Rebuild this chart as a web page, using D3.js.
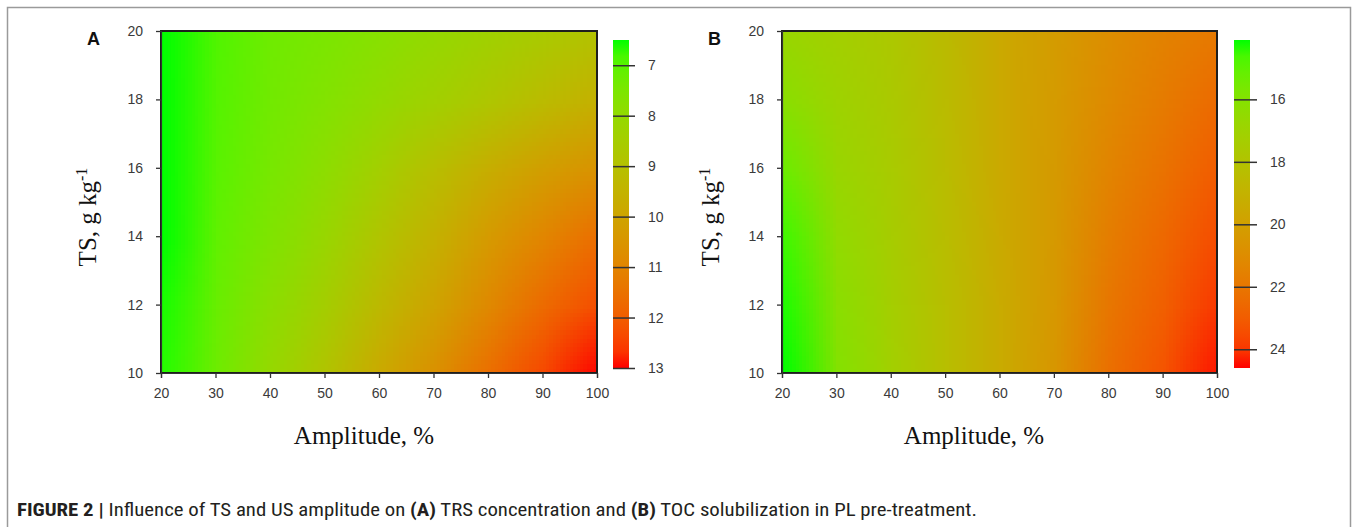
<!DOCTYPE html>
<html><head><meta charset="utf-8">
<script src="https://cdn.jsdelivr.net/npm/d3@7"></script>
<style>body{margin:0;background:#fff;} svg{display:block}</style>
</head><body>
<svg id="chart" width="1358" height="527"></svg>
<script>
// ---------- data ----------
const amplitudeTicks = [20, 30, 40, 50, 60, 70, 80, 90, 100];
const tsTicks = [10, 12, 14, 16, 18, 20];
const gridAmplitude = [20, 30, 40, 50, 60, 70, 80, 90, 100];
const gridTS = [20, 18, 16, 14, 12, 10];
// (A) TRS concentration, rows = TS (20 -> 10), columns = amplitude (20 -> 100)
const trsValues = [
  [6.5, 6.9, 7.3, 7.5, 7.75, 8.05, 8.35, 8.65, 8.95],
  [6.5, 6.95, 7.35, 7.65, 8.0, 8.4, 8.8, 9.2, 9.6],
  [6.5, 7.0, 7.45, 7.9, 8.45, 9.1, 9.7, 10.2, 10.6],
  [6.5, 7.1, 7.6, 8.15, 8.85, 9.55, 10.35, 11.0, 11.6],
  [6.55, 7.2, 7.85, 8.5, 9.3, 10.05, 10.9, 11.7, 12.3],
  [6.6, 7.3, 8.1, 8.9, 9.85, 10.65, 11.6, 12.4, 13.0]
];
// (B) TOC solubilization
const tocValues = [
  [16.8, 17.2, 17.7, 18.5, 19.5, 20.2, 20.9, 21.5, 21.9],
  [16.2, 17.0, 17.6, 18.45, 19.5, 20.25, 21.1, 21.8, 22.5],
  [15.3, 16.8, 17.5, 18.4, 19.5, 20.3, 21.4, 22.2, 23.0],
  [14.5, 16.5, 17.4, 18.35, 19.45, 20.35, 21.7, 22.6, 23.5],
  [14.2, 16.2, 17.3, 18.3, 19.4, 20.4, 22.0, 22.9, 24.0],
  [14.1, 16.0, 17.2, 18.3, 19.4, 20.5, 22.3, 23.3, 24.5]
];
const trsLegendTicks = [7, 8, 9, 10, 11, 12, 13];
const tocLegendTicks = [16, 18, 20, 22, 24];
const trsColorRange = [6.5, 13];
const tocColorRange = [14.1, 24.6];
const panelLetters = ["A", "B"];
const xTitle = "Amplitude, %";
const yTitleMain = "TS, g kg";
const yTitleSup = "-1";
const colorEnds = ["#00ff00", "#ff0000"];

// ---------- layout ----------
const svg = d3.select("#chart");
const tickFont = "'Liberation Sans', Arial, sans-serif";
const serif = "'Liberation Serif', 'Times New Roman', serif";

svg.append("rect").attr("x", 7.5).attr("y", 7.5).attr("width", 1343).attr("height", 560)
  .attr("fill", "none").attr("stroke", "#9a9a9a").attr("stroke-width", 1.5);

const panels = [
  {letter: panelLetters[0], values: trsValues, range: trsColorRange, legendTicks: trsLegendTicks,
   x0: 161, x1: 597, barX: 613, tickLen: 22, letterX: 87, yTitleX: 96, xTitleX: 364},
  {letter: panelLetters[1], values: tocValues, range: tocColorRange, legendTicks: tocLegendTicks,
   x0: 782, x1: 1217, barX: 1234, tickLen: 23, letterX: 708, yTitleX: 719, xTitleX: 974}
];
const plotTop = 31, plotBottom = 373, barTop = 40, barBottom = 368, barW = 16;

const defs = svg.append("defs");

panels.forEach((p, pi) => {
  const g = svg.append("g");
  const x = d3.scaleLinear().domain([20, 100]).range([p.x0, p.x1]);
  const y = d3.scaleLinear().domain([10, 20]).range([plotBottom, plotTop]);
  const color = d3.scaleLinear().domain(p.range).range(colorEnds).interpolate(d3.interpolateLab).clamp(true);

  // heat surface: one pixel per grid value, smoothed by the browser
  const nx = gridAmplitude.length, ny = gridTS.length;
  const cv = document.createElement("canvas");
  cv.width = nx; cv.height = ny;
  const ctx = cv.getContext("2d");
  p.values.forEach((row, j) => row.forEach((v, i) => {
    ctx.fillStyle = color(v);
    ctx.fillRect(i, j, 1, 1);
  }));
  const clipId = "clip" + pi;
  defs.append("clipPath").attr("id", clipId).append("rect")
    .attr("x", x(20)).attr("y", y(20)).attr("width", x(100) - x(20)).attr("height", y(10) - y(20));
  const halfX = 5, halfY = 1;
  g.append("g").attr("clip-path", `url(#${clipId})`).append("image")
    .attr("href", cv.toDataURL())
    .attr("x", x(gridAmplitude[0] - halfX)).attr("y", y(gridTS[0] + halfY))
    .attr("width", x(gridAmplitude[nx - 1] + halfX) - x(gridAmplitude[0] - halfX))
    .attr("height", y(gridTS[ny - 1] - halfY) - y(gridTS[0] + halfY))
    .attr("preserveAspectRatio", "none")
    .style("image-rendering", "auto");

  // frame
  g.append("rect").attr("x", x(20)).attr("y", y(20)).attr("width", x(100) - x(20)).attr("height", y(10) - y(20))
    .attr("fill", "none").attr("stroke", "#1e1e1e").attr("stroke-width", 2);

  // axes
  const xa = g.append("g").attr("transform", `translate(0,${plotBottom})`)
    .call(d3.axisBottom(x).tickValues(amplitudeTicks).tickSize(5).tickPadding(10));
  const ya = g.append("g").attr("transform", `translate(${p.x0},0)`)
    .call(d3.axisLeft(y).tickValues(tsTicks).tickSize(5).tickPadding(13));
  [xa, ya].forEach(a => {
    a.select(".domain").attr("stroke", "#333").attr("stroke-width", 1.2);
    a.selectAll(".tick line").attr("stroke", "#333").attr("stroke-width", 1.3);
    a.selectAll(".tick text").attr("font-family", tickFont).attr("font-size", 14).attr("fill", "#3a3a3a");
  });

  // color bar
  const gid = "grad" + pi;
  const grad = defs.append("linearGradient").attr("id", gid).attr("x1", 0).attr("x2", 0).attr("y1", 0).attr("y2", 1);
  d3.range(0, 1.0001, 0.05).forEach(t => {
    grad.append("stop").attr("offset", t)
      .attr("stop-color", color(p.range[0] + t * (p.range[1] - p.range[0])));
  });
  const cy = d3.scaleLinear().domain(p.range).range([barTop, barBottom]);
  g.append("rect").attr("x", p.barX).attr("y", barTop).attr("width", barW).attr("height", barBottom - barTop)
    .attr("fill", `url(#${gid})`);
  const ca = g.append("g").attr("transform", `translate(${p.barX},0)`)
    .call(d3.axisRight(cy).tickValues(p.legendTicks).tickSize(p.tickLen).tickPadding(13).tickFormat(d3.format("d")));
  ca.select(".domain").remove();
  ca.selectAll(".tick line").attr("stroke", "#333").attr("stroke-width", 1.5);
  ca.selectAll(".tick text").attr("font-family", tickFont).attr("font-size", 14).attr("fill", "#3a3a3a");

  // panel letter
  g.append("text").attr("x", p.letterX).attr("y", 45).text(p.letter)
    .attr("font-family", tickFont).attr("font-weight", "bold").attr("font-size", 18).attr("fill", "#111");

  // axis titles
  g.append("text").attr("x", p.xTitleX).attr("y", 444).attr("text-anchor", "middle")
    .attr("font-family", serif).attr("font-size", 25).attr("fill", "#111").text(xTitle);
  const yt = g.append("text").attr("transform", `translate(${p.yTitleX},217) rotate(-90)`)
    .attr("text-anchor", "middle").attr("font-family", serif).attr("font-size", 25).attr("fill", "#111");
  yt.append("tspan").text(yTitleMain);
  yt.append("tspan").attr("dy", -9).attr("font-size", 16).text(yTitleSup);
});

// caption
const capParts = [
  {t: "FIGURE 2 | ", b: true},
  {t: "Influence of TS and US amplitude on ", b: false},
  {t: "(A)", b: true},
  {t: " TRS concentration and ", b: false},
  {t: "(B)", b: true},
  {t: " TOC solubilization in PL pre-treatment.", b: false}
];
const cap = svg.append("text").attr("x", 17).attr("y", 516)
  .attr("font-family", "'Liberation Sans Narrow', 'Roboto Condensed', 'DejaVu Sans Condensed', 'Liberation Sans', sans-serif")
  .attr("font-stretch", "condensed")
  .attr("font-size", 18).attr("fill", "#231f20");
capParts.forEach(c => cap.append("tspan").attr("font-weight", c.b ? "bold" : "normal").text(c.t));
cap.attr("textLength", 960).attr("lengthAdjust", "spacingAndGlyphs");
</script>
</body></html>
